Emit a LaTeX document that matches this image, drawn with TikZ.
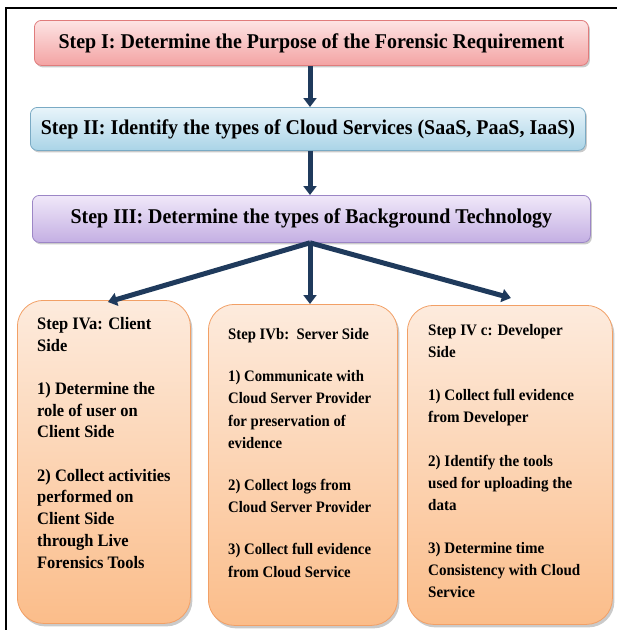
\documentclass[tikz,border=0pt]{standalone}
\usepackage{fontspec}
\setmainfont{Liberation Serif}
\usetikzlibrary{arrows.meta,shadows}
\definecolor{navy}{HTML}{1F3A5C}
\definecolor{pinkTop}{HTML}{FDE4E4}
\definecolor{pinkBot}{HTML}{F3A3A3}
\definecolor{pinkLine}{HTML}{E07C7C}
\definecolor{blueTop}{HTML}{E8F4FA}
\definecolor{blueBot}{HTML}{AAD4E7}
\definecolor{blueLine}{HTML}{7AAAC4}
\definecolor{lilacTop}{HTML}{F0E8F9}
\definecolor{lilacBot}{HTML}{C4AFE3}
\definecolor{lilacLine}{HTML}{9C86C6}
\definecolor{peachTop}{HTML}{FDEBDD}
\definecolor{peachBot}{HTML}{FBBD8A}
\definecolor{peachLine}{HTML}{F2A066}
\tikzset{
  x=1pt,y=-1pt,
  stepbar/.style={draw=#1, line width=0.8pt, rounded corners=7pt, anchor=north west,
    drop shadow={shadow xshift=1.5pt,shadow yshift=-2pt,opacity=0.35,fill=black!60}},
  headtext/.style={font=\bfseries\fontsize{21}{24}\selectfont, text=black, xscale=0.95, transform shape},
  sidebox/.style={draw=peachLine, line width=0.8pt, rounded corners=26pt, anchor=north west,
    top color=peachTop, bottom color=peachBot,
    drop shadow={shadow xshift=2pt,shadow yshift=-3pt,opacity=0.35,fill=black!60}},
  sidetext/.style={anchor=north west, align=left, inner sep=0pt, text=black,
    font=\bfseries\fontsize{17.5}{21.7}\selectfont, xscale=0.94, transform shape},
  flow/.style={navy, line width=5pt, -{Triangle[width=13pt,length=9pt]}},
}
\begin{document}
\begin{tikzpicture}
\useasboundingbox (0,0) rectangle (617,630);
% frame
\draw[line width=2pt] (6,630) -- (6,8) -- (617,8);

% steps I--III
\node[stepbar=pinkLine, top color=pinkTop, bottom color=pinkBot, minimum width=554, minimum height=45] (s1) at (34,20) {};
\node[headtext] (t1) at (s1.center) {Step I: Determine the Purpose of the Forensic Requirement};

\node[stepbar=blueLine, top color=blueTop, bottom color=blueBot, minimum width=555, minimum height=43] (s2) at (30,107) {};
\node[headtext] (t2) at (s2.center) {Step II: Identify the types of Cloud Services (SaaS, PaaS, IaaS)};

\node[stepbar=lilacLine, top color=lilacTop, bottom color=lilacBot, minimum width=558, minimum height=47] (s3) at (32,195) {};
\node[headtext] (t3) at (s3.center) {Step III: Determine the types of Background Technology};

% step IV boxes
\node[sidebox, minimum width=173, minimum height=323] (a) at (17,300) {};
\node[sidebox, minimum width=189, minimum height=321] (b) at (208,304) {};
\node[sidebox, minimum width=205, minimum height=319] (c) at (407,305) {};

\node[sidetext] (at) at (37,317) {Step IVa: Client\\Side\\[21.7pt]
1) Determine the\\role of user on\\Client Side\\[21.7pt]
2) Collect activities\\performed on\\Client Side\\through Live\\Forensics Tools};

\node[sidetext, font=\bfseries\fontsize{16}{22.4}\selectfont, xscale=0.98] (bt) at (228,328) {Step IVb:\ \ Server Side\\[19.5pt]
1) Communicate with\\Cloud Server Provider\\for preservation of\\evidence\\[19.5pt]
2) Collect logs from\\Cloud Server Provider\\[19.5pt]
3) Collect full evidence\\from Cloud Service};

\node[sidetext, font=\bfseries\fontsize{16}{22}\selectfont, xscale=1.0] (ct) at (428,324) {Step IV c: Developer\\Side\\[21.5pt]
1) Collect full evidence\\from Developer\\[21.5pt]
2) Identify the tools\\used for uploading the\\data\\[21.5pt]
3) Determine time\\Consistency with Cloud\\Service};

% connectors
\coordinate (x0) at (310,0);
\draw[flow] (s1.south -| x0) -- (s2.north -| x0);
\draw[flow] (s2.south -| x0) -- (s3.north -| x0);
\draw[flow] (s3.south -| x0) -- ([xshift=4pt,yshift=-2pt]a.north);
\draw[flow] (s3.south -| x0) -- (b.north -| x0);
\draw[flow] (s3.south -| x0) -- ([xshift=1pt,yshift=7pt]c.north);
\end{tikzpicture}
\end{document}
